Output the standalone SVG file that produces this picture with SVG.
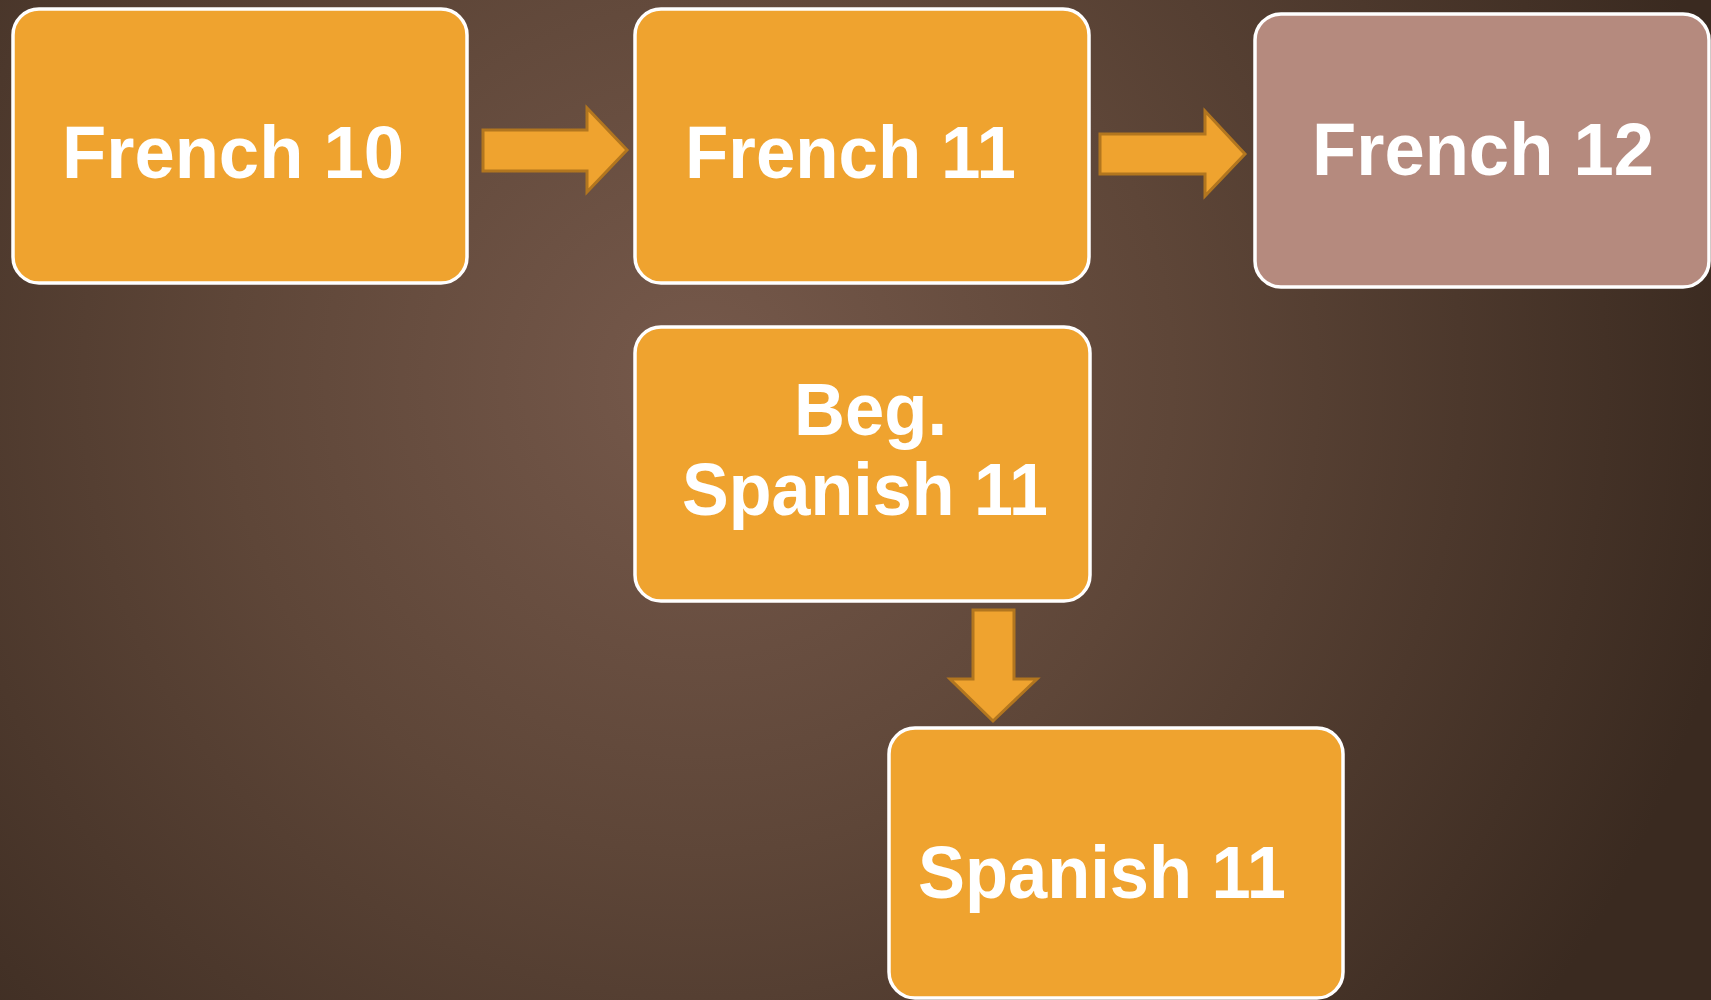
<svg xmlns="http://www.w3.org/2000/svg" width="1711" height="1000" viewBox="0 0 1711 1000">
<defs>
<radialGradient id="bg" cx="700" cy="380" r="1050" gradientUnits="userSpaceOnUse">
<stop offset="0" stop-color="#76594B"/>
<stop offset="0.45" stop-color="#5E4638"/>
<stop offset="1" stop-color="#3A2A20"/>
</radialGradient>
<style>
.box{fill:#EFA32F;stroke:#FFFFFF;stroke-width:3.5}
.box2{fill:#B58A7E;stroke:#FFFFFF;stroke-width:3.5}
.lbl{font-family:"Liberation Sans",Arial,sans-serif;font-weight:bold;font-size:74px;fill:#FFFFFF}
.arr{fill:#EFA32F;stroke:#B2761F;stroke-width:3;stroke-linejoin:miter}
</style>
</defs>
<rect x="0" y="0" width="1711" height="1000" fill="url(#bg)"/>
<g id="connectors">
<polygon class="arr" points="483,130 587,130 587,108 627,150 587,192 587,171 483,171"/>
<polygon class="arr" points="1100,134 1205,134 1205,111 1245,154 1205,196 1205,174 1100,174"/>
<polygon class="arr" points="973,610 1014,610 1014,679 1037,679 993,721 950,679 973,679"/>
</g>
<g id="french10">
<rect class="box" x="13" y="9" width="454" height="274" rx="26" ry="26"/>
<text class="lbl" x="62" y="178" textLength="342" lengthAdjust="spacingAndGlyphs">French 10</text>
</g>
<g id="french11">
<rect class="box" x="635" y="9" width="454" height="274" rx="26" ry="26"/>
<text class="lbl" x="685" y="178" textLength="331" lengthAdjust="spacingAndGlyphs">French 11</text>
</g>
<g id="french12">
<rect class="box2" x="1255" y="14" width="454" height="273" rx="26" ry="26"/>
<text class="lbl" x="1312" y="175" textLength="342" lengthAdjust="spacingAndGlyphs">French 12</text>
</g>
<g id="begspanish11">
<rect class="box" x="635" y="327" width="455" height="274" rx="26" ry="26"/>
<text class="lbl" x="794" y="435" textLength="153" lengthAdjust="spacingAndGlyphs">Beg.</text>
<text class="lbl" x="682" y="515" textLength="366" lengthAdjust="spacingAndGlyphs">Spanish 11</text>
</g>
<g id="spanish11">
<rect class="box" x="889" y="728" width="454" height="270" rx="26" ry="26"/>
<text class="lbl" x="918" y="898" textLength="368" lengthAdjust="spacingAndGlyphs">Spanish 11</text>
</g>
</svg>
